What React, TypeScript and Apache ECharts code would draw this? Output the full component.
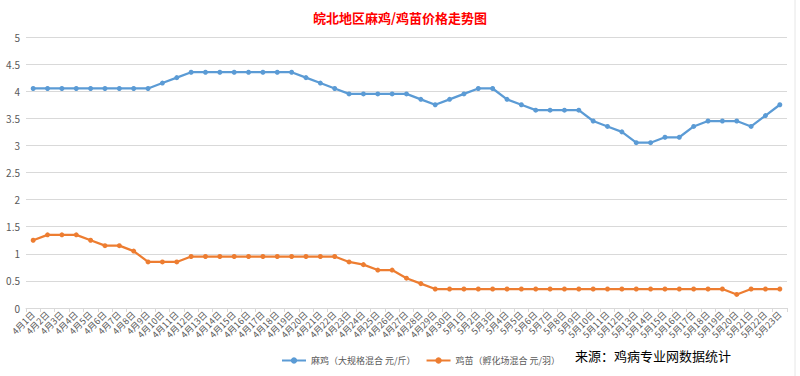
import React, { useEffect, useRef } from "react";
import * as echarts from "echarts";

const days: string[] = [
  ...Array.from({ length: 30 }, (_, i) => `4月${i + 1}日`),
  ...Array.from({ length: 23 }, (_, i) => `5月${i + 1}日`),
];

const maji: number[] = [
  4.05, 4.05, 4.05, 4.05, 4.05, 4.05, 4.05, 4.05, 4.05, 4.15,
  4.25, 4.35, 4.35, 4.35, 4.35, 4.35, 4.35, 4.35, 4.35, 4.25,
  4.15, 4.05, 3.95, 3.95, 3.95, 3.95, 3.95, 3.85, 3.75, 3.85,
  3.95, 4.05, 4.05, 3.85, 3.75, 3.65, 3.65, 3.65, 3.65, 3.45,
  3.35, 3.25, 3.05, 3.05, 3.15, 3.15, 3.35, 3.45, 3.45, 3.45,
  3.35, 3.55, 3.75,
];

const jimiao: number[] = [
  1.25, 1.35, 1.35, 1.35, 1.25, 1.15, 1.15, 1.05, 0.85, 0.85,
  0.85, 0.95, 0.95, 0.95, 0.95, 0.95, 0.95, 0.95, 0.95, 0.95,
  0.95, 0.95, 0.85, 0.8, 0.7, 0.7, 0.55, 0.45, 0.35, 0.35,
  0.35, 0.35, 0.35, 0.35, 0.35, 0.35, 0.35, 0.35, 0.35, 0.35,
  0.35, 0.35, 0.35, 0.35, 0.35, 0.35, 0.35, 0.35, 0.35, 0.25,
  0.35, 0.35, 0.35,
];

const seriesNames = ["麻鸡（大规格混合 元/斤）", "鸡苗（孵化场混合 元/羽）"];
const title = "皖北地区麻鸡/鸡苗价格走势图";
const source = "来源：鸡病专业网数据统计";

const FONT = "'Noto Sans CJK SC', 'Noto Sans', sans-serif";

export default function App() {
  const ref = useRef<HTMLDivElement>(null);
  useEffect(() => {
    if (!ref.current) return;
    const chart = echarts.init(ref.current, undefined, { renderer: "svg" });
    chart.setOption({
      animation: false,
      backgroundColor: "#fff",
      textStyle: { fontFamily: FONT },
      title: {
        text: title,
        left: "center",
        top: 6,
        textStyle: { color: "#ff0000", fontSize: 13, fontWeight: "bold", fontFamily: FONT },
      },
      legend: {
        left: 276,
        top: 351,
        itemWidth: 24,
        itemHeight: 8,
        itemGap: 10,
        textStyle: { color: "#595959", fontSize: 9, fontFamily: FONT },
        data: seriesNames,
      },
      grid: { left: 26, right: 13, top: 37, bottom: 68, containLabel: false },
      xAxis: {
        type: "category",
        data: days,
        boundaryGap: true,
        axisLine: { lineStyle: { color: "#d9d9d9" } },
        axisTick: { show: true, length: 4, lineStyle: { color: "#d9d9d9" } },
        axisLabel: { interval: 0, rotate: 45, fontSize: 9, color: "#595959", margin: 5, fontFamily: FONT },
      },
      yAxis: {
        type: "value",
        min: 0,
        max: 5,
        interval: 0.5,
        axisLine: { show: false },
        axisTick: { show: false },
        splitLine: { lineStyle: { color: "#d9d9d9" } },
        axisLabel: { fontSize: 10, color: "#595959", margin: 6, fontFamily: FONT },
      },
      series: [
        {
          name: seriesNames[0],
          type: "line",
          data: maji,
          color: "#5b9bd5",
          lineStyle: { width: 2.25 },
          symbol: "circle",
          symbolSize: 5,
        },
        {
          name: seriesNames[1],
          type: "line",
          data: jimiao,
          color: "#ed7d31",
          lineStyle: { width: 2.25 },
          symbol: "circle",
          symbolSize: 5,
        },
      ],
      graphic: [
        {
          type: "text",
          left: 575,
          top: 349,
          style: { text: source, fontSize: 13, fill: "#000", fontFamily: FONT },
        },
        {
          type: "line",
          shape: { x1: 795, y1: 0, x2: 795, y2: 376 },
          style: { stroke: "#e6e6e6", lineWidth: 1 },
        },
      ],
    });
    return () => chart.dispose();
  }, []);
  return <div ref={ref} style={{ width: 800, height: 376, position: "absolute", left: 0, top: 0 }} />;
}
